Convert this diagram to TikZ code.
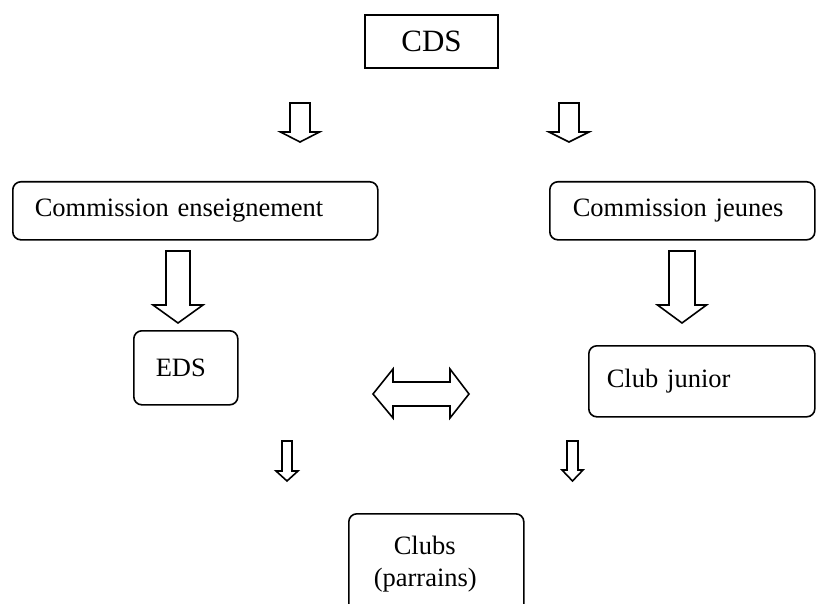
\documentclass[tikz,border=0pt]{standalone}
\usepackage{fontspec}
\setmainfont{Liberation Serif}
\newcommand\blockdown[6]{%
  \draw[blk] (#1-#3,#2) -- (#1+#3,#2) -- (#1+#3,#5) -- (#1+#4,#5) -- (#1,#6) -- (#1-#4,#5) -- (#1-#3,#5) -- cycle;}
\begin{document}
\begin{tikzpicture}[x=1pt,y=-1pt,
  box/.style={draw, line width=1.6pt, rounded corners=8pt, inner ysep=0pt, anchor=north west, align=left,
    font=\fontsize{26.5}{32}\selectfont},
  blk/.style={draw, line width=1.6pt, fill=white, line join=miter}]
\useasboundingbox (0,0) rectangle (816,604);
\clip (0,0) rectangle (816,604);

\node[draw, line width=1.8pt, minimum width=133pt, minimum height=53pt, inner sep=0pt,
  font=\fontsize{31}{36}\selectfont] (cds) at (431.5,41.5) {CDS};

\node[box, minimum height=58pt, inner xsep=22pt, text width=321pt] (ce) at (12,181) {Commission enseignement};
\node[box, minimum height=58pt, inner xsep=23pt, text width=219pt] (cj) at (549,181) {Commission jeunes};
\node[box, minimum height=74pt, inner xsep=22pt, text width=60pt] (eds) at (133,330) {EDS};
\node[box, minimum height=71pt, inner xsep=18pt, text width=190pt] (cjr) at (588,345) {Club junior};
\node[box, minimum height=100pt, inner xsep=25pt, text width=125pt] (clubs) at (348,513) {\hspace*{20pt}Clubs\\(parrains)};

% block arrows: cx, ytop, shaft half, head half, ybase, ytip
\blockdown{300}{103}{10}{19.5}{132}{142}
\blockdown{569}{103}{10}{20}{132}{142}
\blockdown{178}{251}{12}{25}{305}{323}
\blockdown{682}{251}{13}{24.5}{305}{323}
\blockdown{287}{441}{5}{11}{471}{481}
\blockdown{572.5}{441}{5.5}{10.5}{470}{481}

\draw[blk] (373,394) -- (393,369) -- (393,382) -- (450,382) -- (450,369) -- (469,394)
  -- (450,418) -- (450,406) -- (393,406) -- (393,418) -- cycle;
\end{tikzpicture}
\end{document}
